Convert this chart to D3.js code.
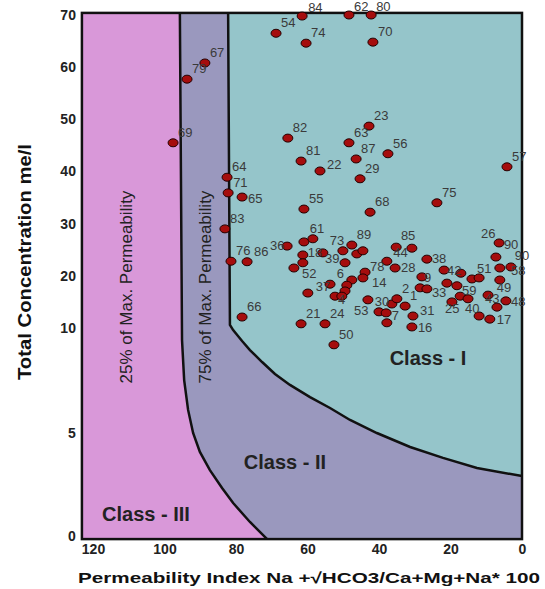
<!DOCTYPE html>
<html><head><meta charset="utf-8">
<script src="https://cdn.jsdelivr.net/npm/d3@7"></script>
<style>
body{margin:0;background:#fff;}
text{font-family:"Liberation Sans",Arial,sans-serif;}
</style></head>
<body>
<svg id="c" width="545" height="589"></svg>
<script>
// ---- data ----
const xTicks = [120,100,80,60,40,20,0];
const yTicks = [0,5,10,20,30,40,50,60,70];
const sampleIds = ["84","62","80","54","74","70","67","79","69","82","23","63","87","56","81","22","29","57","64","71","65","55","68","75","83","76","86","66",
"36","","61","","52","18","73","","89","39","","","44","85","","28","78","14","","6","","","37","4","","53","","","30","2","1","7","31","16","21","24","50",
"38","9","","33","42","","51","","","59","","","25","40","17","","43","48","49","90","58","90","26"];
const permIndex = [61.5,48.4,42.2,68.8,60.4,41.7,88.7,93.7,97.6,65.5,42.8,48.4,46.4,37.5,61.8,56.5,45.3,4.2,82.5,82.2,78.3,61.0,42.5,23.8,83.1,81.4,76.9,78.3,
65.7,61.0,58.5,61.3,63.8,61.3,55.7,50.1,47.6,49.5,46.2,44.5,35.2,30.8,37.8,35.5,43.9,44.5,47.6,49.0,49.5,53.7,59.9,52.3,50.4,43.1,40.0,38.0,36.4,35.0,32.7,37.8,30.5,30.8,61.8,55.1,52.6,
26.6,28.0,28.5,26.6,21.8,17.1,14.0,12.0,21.0,18.2,17.3,15.1,19.6,12.0,9.0,9.5,7.0,4.5,6.2,6.2,3.1,7.3,6.4];
const totalConc = [69.8,70.0,70.0,66.5,64.6,64.8,60.8,57.7,45.5,46.4,48.7,45.5,42.4,43.4,42.0,40.1,38.6,40.9,38.9,35.9,35.1,32.8,32.2,34.0,29.0,22.8,22.7,12.1,
25.7,26.5,27.1,24.0,21.5,22.5,24.4,24.8,25.9,22.5,24.2,24.8,25.5,25.3,22.8,21.5,20.7,19.6,19.2,18.2,17.1,18.4,16.7,16.1,16.1,15.4,13.1,12.9,14.6,15.6,14.2,11.0,12.3,10.2,10.8,10.8,9.2,
23.2,19.8,17.7,17.5,21.1,20.5,19.4,19.6,18.6,18.1,16.1,15.6,15.0,12.3,11.7,16.3,14.0,15.2,19.2,21.5,21.7,23.6,26.3];
// class boundaries [permeability index, total concentration]
const boundary25 = [[95.7,70.4],[95.1,9.43],[94.5,7.52],[93.4,6.1],[92.0,5.0],[90.1,4.08],[87.3,3.2],[83.9,2.33],[80.8,1.6],[76.1,0.68],[71.3,-0.15]];
const boundary75 = [[82.2,70.4],[81.7,10.6],[80.8,9.9],[78.3,9.38],[76.1,8.95],[72.7,8.38],[69.1,7.81],[64.9,7.29],[59.3,6.71],[53.7,6.19],[48.1,5.62],[40.6,5.0],[31.3,4.32],[22.1,3.79],[12.6,3.3],[0,2.91]];
const regionLabels = ["Class - I","Class - II","Class - III"];
const permLabels = ["25% of Max. Permeability","75% of Max. Permeability"];

// ---- styles / overrides ----
const labelOffset = {"36":[-17,4],"61":[-3,-6],"73":[7,-8],"85":[-11,-8],"44":[-3,10],"38":[5,4],"78":[5,-1],"28":[6,4],"52":[8,10],
 "6":[-10,-7],"39":[-20,0],"14":[9,9],"9":[2,5],"37":[8,-2],"4":[3,8],"53":[-14,15],"30":[-17,2],"7":[5,-3],"31":[7,-1],"16":[6,5],
 "25":[-7,11],"40":[-14,-3],"17":[7,5],"48":[5,5],"43":[-12,-4],"59":[5,9],"33":[5,8],"42":[3,5],"58":[0,8],"49":[-3,12],"26":[-18,-5],
 "22":[7,-2],"65":[6,6],"76":[5,-6],"86":[7,-6],"62":[5,-4],"80":[5,-4],"84":[6,-4]};
const labelOffsetByIndex = {84:[15,-8], 86:[8,-8]};

const svg = d3.select("#c");
const x = d3.scaleLinear().domain([120,0]).range([93,522]);
const y = d3.scaleLinear().domain([0,5,10,70]).range([536,433,328,15]);
const xL = 123.1, xR = 0, yT = 70.4, yB = -0.15;

// background (Class II)
svg.append("rect").attr("x",x(xL)).attr("y",y(yT)).attr("width",x(xR)-x(xL)).attr("height",y(yB)-y(yT)).attr("fill","#9a98be");
const line = d3.line().x(d=>x(d[0])).y(d=>y(d[1]));
// Class III
const p3 = [[xL,yT]].concat(boundary25).concat([[xL,yB]]);
svg.append("path").attr("d",line(p3)+"Z").attr("fill","#d998d9");
// Class I
const p1 = boundary75.concat([[xR,yT]]);
svg.append("path").attr("d",line(p1)+"Z").attr("fill","#95c5ca");
// boundaries
svg.append("path").attr("d",line(boundary25)).attr("fill","none").attr("stroke","#111").attr("stroke-width",2.5);
svg.append("path").attr("d",line(boundary75)).attr("fill","none").attr("stroke","#111").attr("stroke-width",2.5);
// frame
svg.append("rect").attr("x",x(xL)).attr("y",y(yT)).attr("width",x(xR)-x(xL)).attr("height",y(yB)-y(yT)).attr("fill","none").attr("stroke","#111").attr("stroke-width",2.5);

// axes
const ax = svg.append("g").attr("transform",`translate(0,${y(yB)})`).call(d3.axisBottom(x).tickValues(xTicks).tickSize(0).tickPadding(5));
ax.select(".domain").remove();
ax.selectAll("text").attr("font-size",14).attr("font-weight","bold").attr("fill","#222").style("font-family","Liberation Sans, Arial");
const ay = svg.append("g").attr("transform",`translate(${x(xL)},0)`).call(d3.axisLeft(y).tickValues(yTicks).tickSize(0).tickPadding(6));
ay.select(".domain").remove();
ay.selectAll("text").attr("font-size",14).attr("font-weight","bold").attr("fill","#222").style("font-family","Liberation Sans, Arial");

// axis titles
svg.append("text").attr("x",78).attr("y",583).attr("font-size",15).attr("font-weight","bold").attr("fill","#111")
  .attr("textLength",462).attr("lengthAdjust","spacingAndGlyphs")
  .text("Permeability Index Na +\u221AHCO3/Ca+Mg+Na* 100");
svg.append("text").attr("transform","translate(31,380) rotate(-90)").attr("font-size",18).attr("font-weight","bold").attr("fill","#111")
  .attr("textLength",236).attr("lengthAdjust","spacingAndGlyphs")
  .text("Total Concentration me/l");

// region texts
svg.append("text").attr("transform","translate(132,287) rotate(-90)").attr("text-anchor","middle").attr("font-size",17).attr("fill","#222").text(permLabels[0]);
svg.append("text").attr("transform","translate(211,287) rotate(-90)").attr("text-anchor","middle").attr("font-size",17).attr("fill","#222").text(permLabels[1]);
svg.append("text").attr("x",428).attr("y",365).attr("text-anchor","middle").attr("font-size",20).attr("font-weight","bold").attr("fill","#222").text(regionLabels[0]);
svg.append("text").attr("x",285).attr("y",469).attr("text-anchor","middle").attr("font-size",20).attr("font-weight","bold").attr("fill","#222").text(regionLabels[1]);
svg.append("text").attr("x",146).attr("y",521).attr("text-anchor","middle").attr("font-size",20).attr("font-weight","bold").attr("fill","#222").text(regionLabels[2]);

// points
const pts = sampleIds.map((id,i)=>({id, i, px:permIndex[i], tc:totalConc[i]}));
const off = d => labelOffsetByIndex[d.i] || labelOffset[d.id] || [5,-6];
svg.append("g").selectAll("ellipse").data(pts).join("ellipse")
  .attr("cx",d=>x(d.px)).attr("cy",d=>y(d.tc)).attr("rx",5).attr("ry",4)
  .attr("fill","#a50d0d").attr("stroke","#220000").attr("stroke-width",1);
svg.append("g").selectAll("text").data(pts.filter(d=>d.id)).join("text")
  .attr("x",d=>x(d.px)+off(d)[0])
  .attr("y",d=>y(d.tc)+off(d)[1])
  .attr("font-size",13).attr("fill","#3a3a3a").text(d=>d.id);
</script>
</body></html>
